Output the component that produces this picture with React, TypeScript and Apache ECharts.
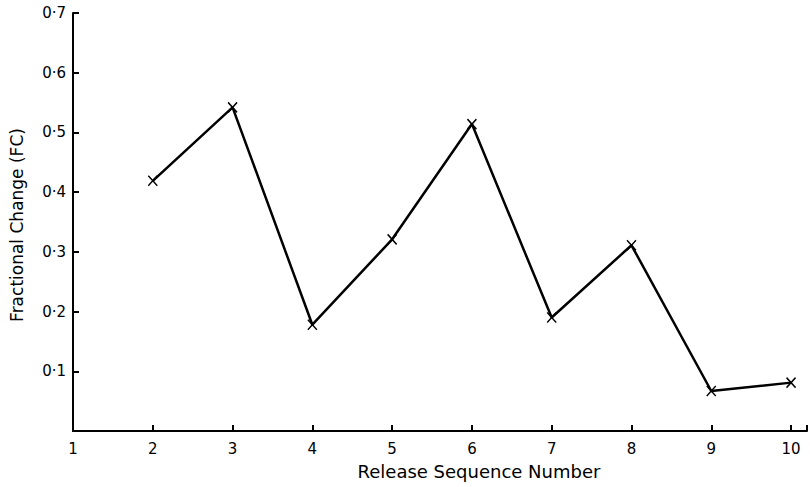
import React, { useEffect, useRef } from "react";
import * as echarts from "echarts";

const releaseNumbers = [2, 3, 4, 5, 6, 7, 8, 9, 10];
const fractionalChange = [0.419, 0.542, 0.178, 0.321, 0.514, 0.19, 0.311, 0.067, 0.081];
const xTitle = "Release Sequence Number";
const yTitle = "Fractional Change (FC)";

export default function App() {
  const ref = useRef<HTMLDivElement>(null);
  useEffect(() => {
    document.body.style.margin = "0";
    if (!ref.current) return;
    const chart = echarts.init(ref.current, null, { renderer: "svg" });
    const font = "DejaVu Sans";
    chart.setOption({
      animation: false,
      backgroundColor: "#ffffff",
      grid: { left: 73, right: 2, top: 13, bottom: 56, containLabel: false },
      graphic: [
        {
          type: "text",
          x: 479,
          y: 471,
          style: {
            text: xTitle,
            fill: "#000",
            font: `18px "${font}"`,
            align: "center",
            verticalAlign: "middle",
            textAlign: "center",
            textVerticalAlign: "middle",
          },
        },
        {
          type: "text",
          x: 17,
          y: 225,
          rotation: Math.PI / 2,
          style: {
            text: yTitle,
            fill: "#000",
            font: `17px "${font}"`,
            align: "center",
            verticalAlign: "middle",
            textAlign: "center",
            textVerticalAlign: "middle",
          },
        },
      ],
      xAxis: {
        type: "value",
        min: 1,
        max: 10.2,
        interval: 1,
        splitLine: { show: false },
        axisLine: { show: true, onZero: false, lineStyle: { color: "#000", width: 2 } },
        axisTick: { show: true, inside: true, length: 6, lineStyle: { color: "#000", width: 2 } },
        axisLabel: {
          color: "#000",
          fontFamily: font,
          fontSize: 15,
          margin: 10,
          formatter: (v: number) => (v > 10 ? "" : String(Math.round(v))),
        },
      },
      yAxis: {
        type: "value",
        min: 0,
        max: 0.7,
        interval: 0.1,
        splitLine: { show: false },
        axisLine: { show: true, lineStyle: { color: "#000", width: 2 } },
        axisTick: { show: true, inside: true, length: 6, lineStyle: { color: "#000", width: 2 } },
        axisLabel: {
          color: "#000",
          fontFamily: font,
          fontSize: 15,
          margin: 7,
          formatter: (v: number) => (v === 0 ? "" : v.toFixed(1).replace(".", "·")),
        },
      },
      series: [
        {
          type: "line",
          data: releaseNumbers.map((x, i) => [x, fractionalChange[i]]),
          symbol: "path://M0,0L10,10M10,0L0,10",
          symbolSize: [9, 10],
          showSymbol: true,
          lineStyle: { color: "#000", width: 2.5 },
          itemStyle: { color: "transparent", borderColor: "#000", borderWidth: 1.5 },
        },
      ],
    });
    return () => chart.dispose();
  }, []);
  return <div ref={ref} style={{ width: 810, height: 487 }} />;
}
